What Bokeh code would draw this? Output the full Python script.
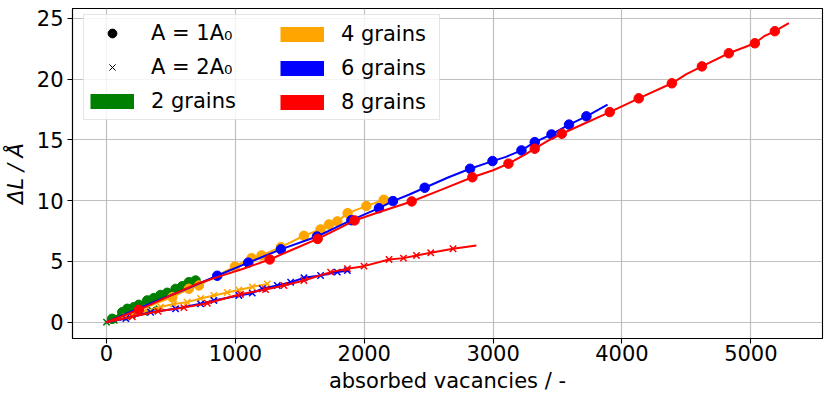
from bokeh.plotting import figure
from bokeh.models import Range1d, Legend, LegendItem
from bokeh.embed import file_html
from bokeh.resources import INLINE

# ---------------- data ----------------
# 2 grains
g2_a1_x = [0, 44, 122, 161, 212, 251, 316, 367, 419, 471, 536, 588, 639, 691]
g2_a1_y = [0, 0.28, 0.82, 1.10, 1.23, 1.43, 1.79, 1.98, 2.24, 2.42, 2.74, 2.96, 3.29, 3.43]
g2_a1_mx = [44, 122, 161, 212, 251, 316, 367, 419, 471, 536, 588, 639, 691]
g2_a1_my = [0.28, 0.82, 1.10, 1.23, 1.43, 1.79, 1.98, 2.24, 2.42, 2.74, 2.96, 3.29, 3.43]

g2_a2_x = [0, 60, 130, 200, 290, 350, 406]
g2_a2_y = [0, 0.15, 0.40, 0.60, 0.82, 1.00, 1.10]
g2_a2_mx = [0, 60, 130, 200, 290, 350, 406]
g2_a2_my = [0, 0.15, 0.40, 0.60, 0.82, 1.00, 1.10]

# 4 grains
g4_a1_x = [0, 250, 510, 639, 717, 860, 996, 1126, 1203, 1353, 1532, 1661, 1726, 1791, 1871, 2016, 2151, 2238]
g4_a1_y = [0, 1.0, 2.06, 2.75, 3.02, 3.85, 4.58, 5.27, 5.49, 6.17, 7.11, 7.63, 8.04, 8.29, 8.97, 9.55, 10.07, 10.29]
g4_a1_mx = [510, 639, 717, 996, 1126, 1203, 1353, 1532, 1661, 1726, 1791, 1871, 2016, 2151]
g4_a1_my = [2.06, 2.75, 3.02, 4.58, 5.27, 5.49, 6.17, 7.11, 7.63, 8.04, 8.29, 8.97, 9.55, 10.07]

g4_a2_x = [0, 150, 300, 420, 520, 626, 730, 833, 937, 1027, 1131, 1248]
g4_a2_y = [0, 0.45, 0.90, 1.25, 1.50, 1.65, 1.95, 2.20, 2.45, 2.65, 2.90, 3.15]
g4_a2_mx = [150, 300, 420, 520, 626, 730, 833, 937, 1027, 1131, 1248]
g4_a2_my = [0.45, 0.90, 1.25, 1.50, 1.65, 1.95, 2.20, 2.45, 2.65, 2.90, 3.15]

# 6 grains
g6_a1_x = [0, 300, 600, 859, 1100, 1353, 1633, 1900, 2114, 2223, 2350, 2469, 2650, 2821,
           2995, 3100, 3220, 3323, 3453, 3589, 3724, 3888]
g6_a1_y = [0, 1.35, 2.65, 3.82, 4.90, 5.99, 7.05, 8.39, 9.38, 9.96, 10.5, 11.06, 11.9, 12.62,
           13.25, 13.6, 14.13, 14.81, 15.44, 16.25, 16.93, 17.9]
g6_a1_mx = [859, 1100, 1353, 1633, 1900, 2114, 2223, 2469, 2821, 2995, 3220, 3323, 3453, 3589, 3724]
g6_a1_my = [3.82, 4.90, 5.99, 7.05, 8.39, 9.38, 9.96, 11.06, 12.62, 13.25, 14.13, 14.81, 15.44, 16.25, 16.93]

g6_a2_x = [0, 150, 342, 536, 730, 833, 1027, 1131, 1209, 1325, 1429, 1532, 1661, 1791, 1887]
g6_a2_y = [0, 0.30, 0.82, 1.10, 1.51, 1.79, 2.20, 2.39, 2.75, 3.02, 3.29, 3.65, 3.84, 4.12, 4.26]
g6_a2_mx = [150, 342, 536, 730, 833, 1027, 1131, 1209, 1325, 1429, 1532, 1661, 1791, 1869]
g6_a2_my = [0.30, 0.82, 1.10, 1.51, 1.79, 2.20, 2.39, 2.75, 3.02, 3.29, 3.65, 3.84, 4.12, 4.24]

# 8 grains
g8_a1_x = [0, 251, 500, 704, 900, 1050, 1266, 1450, 1638, 1800, 1925, 2100, 2368, 2600, 2839,
           3000, 3119, 3250, 3323, 3420, 3533, 3700, 3905, 4130, 4387, 4500, 4620, 4829, 5031,
           5100, 5186, 5295]
g8_a1_y = [0, 1.02, 2.2, 3.16, 3.85, 4.35, 5.16, 6.0, 6.85, 7.7, 8.37, 9.0, 9.93, 10.9, 11.92,
           12.5, 13.04, 13.8, 14.27, 14.9, 15.5, 16.3, 17.28, 18.41, 19.65, 20.4, 21.04, 22.12, 22.94,
           23.5, 23.93, 24.6]
g8_a1_mx = [251, 1266, 1638, 1925, 2368, 2839, 3119, 3323, 3533, 3905, 4130, 4387, 4620, 4829, 5031, 5186]
g8_a1_my = [1.02, 5.16, 6.85, 8.37, 9.93, 11.92, 13.04, 14.27, 15.5, 17.28, 18.41, 19.65, 21.04, 22.12, 22.94, 23.93]

g8_a2_x = [0, 200, 400, 600, 782, 1040, 1234, 1377, 1532, 1739, 1869, 1998, 2192, 2304, 2405,
           2516, 2689, 2870]
g8_a2_y = [0, 0.45, 0.90, 1.20, 1.56, 2.30, 2.69, 3.02, 3.43, 4.12, 4.40, 4.61, 5.16, 5.27, 5.49,
           5.71, 6.04, 6.31]
g8_a2_mx = [200, 400, 600, 782, 1040, 1234, 1377, 1532, 1739, 1869, 1998, 2192, 2304, 2405, 2516, 2689]
g8_a2_my = [0.45, 0.90, 1.20, 1.56, 2.30, 2.69, 3.02, 3.43, 4.12, 4.40, 4.61, 5.16, 5.27, 5.49, 5.71, 6.04]

series_labels = ["2 grains", "4 grains", "6 grains", "8 grains"]
series_colors = ["green", "orange", "blue", "red"]
marker_labels = ["A = 1A\u2080", "A = 2A\u2080"]

x_ticks = [0, 1000, 2000, 3000, 4000, 5000]
y_ticks = [0, 5, 10, 15, 20, 25]
x_label = "absorbed vacancies / -"
y_label = "\u0394L / \u00c5"

FONT = "DejaVu Sans"
FS = "21px"
NAN = float("nan")

p = figure(width=824, height=399, output_backend="svg", toolbar_location=None,
           x_range=Range1d(-264, 5556), y_range=Range1d(-1.34, 25.8),
           min_border_left=72, min_border_right=2, min_border_top=8, min_border_bottom=61)
p.background_fill_color = "white"
p.border_fill_color = "white"
p.outline_line_color = "black"
p.outline_line_width = 1.1
p.outline_line_alpha = 1.0

for ax in (p.xaxis, p.yaxis):
    ax.axis_line_color = "black"
    ax.axis_line_width = 1.1
    ax.major_tick_line_color = "black"
    ax.major_tick_line_width = 1.1
    ax.major_tick_out = 5
    ax.major_tick_in = 0
    ax.minor_tick_line_color = None
    ax.major_label_text_font = FONT
    ax.major_label_text_font_size = FS
    ax.major_label_text_color = "black"
    ax.axis_label_text_font = FONT
    ax.axis_label_text_font_size = FS
    ax.axis_label_text_color = "black"
p.xaxis.major_label_standoff = 1
p.xaxis.axis_label_standoff = 5
p.yaxis.major_label_standoff = 4
p.yaxis.axis_label_standoff = 6
p.xaxis.ticker = x_ticks
p.yaxis.ticker = y_ticks
p.xaxis.axis_label = x_label
p.yaxis.axis_label = y_label
p.xaxis.axis_label_text_font_style = "normal"
p.yaxis.axis_label_text_font_style = "italic"

for g in (p.xgrid, p.ygrid):
    g.grid_line_color = "#b0b0b0"
    g.grid_line_width = 1.2
    g.grid_line_alpha = 0.8

data = [
    (g2_a1_x, g2_a1_y, g2_a1_mx, g2_a1_my, g2_a2_x, g2_a2_y, g2_a2_mx, g2_a2_my),
    (g4_a1_x, g4_a1_y, g4_a1_mx, g4_a1_my, g4_a2_x, g4_a2_y, g4_a2_mx, g4_a2_my),
    (g6_a1_x, g6_a1_y, g6_a1_mx, g6_a1_my, g6_a2_x, g6_a2_y, g6_a2_mx, g6_a2_my),
    (g8_a1_x, g8_a1_y, g8_a1_mx, g8_a1_my, g8_a2_x, g8_a2_y, g8_a2_mx, g8_a2_my),
]
for col, (lx1, ly1, mx1, my1, lx2, ly2, mx2, my2) in zip(series_colors, data):
    p.line(lx1, ly1, line_color=col, line_width=2)
    p.scatter(mx1, my1, marker="circle", size=9.5, fill_color=col, line_color=col)
    p.line(lx2, ly2, line_color=col, line_width=2)
    p.scatter(mx2, my2, marker="x", size=9, line_color=col, line_width=1.5)

# legend proxies (renderers with a single NaN point: nothing is drawn in the plot)
r_a1 = p.scatter(x=[NAN], y=[NAN], marker="circle", size=8, fill_color="black", line_color="black")
r_a2 = p.scatter(x=[NAN], y=[NAN], marker="x", size=6, line_color="black", line_width=1)
# thick butt-capped lines give 44x15 colour patches in the legend
patch_r = [p.line(x=[NAN], y=[NAN], line_color=c, line_width=15, line_cap="butt")
           for c in series_colors]

common = dict(label_text_font=FONT, label_text_font_size=FS, label_text_color="black",
              glyph_width=44, glyph_height=22, label_standoff=17,
              spacing=10, padding=6, margin=0)

# legend location tuples = bottom-left corner, in pixels from the frame's bottom-left
legend1 = Legend(items=[LegendItem(label=marker_labels[0], renderers=[r_a1]),
                        LegendItem(label=marker_labels[1], renderers=[r_a2]),
                        LegendItem(label=series_labels[0], renderers=[patch_r[0]])],
                 location=(11, 218), label_width=282,
                 border_line_color="#cccccc", border_line_width=1,
                 background_fill_color="white", background_fill_alpha=0.8, **common)
legend2 = Legend(items=[LegendItem(label=series_labels[1], renderers=[patch_r[1]]),
                        LegendItem(label=series_labels[2], renderers=[patch_r[2]]),
                        LegendItem(label=series_labels[3], renderers=[patch_r[3]])],
                 location=(208, 224), label_width=80,
                 border_line_color=None, background_fill_alpha=0, **common)
p.add_layout(legend1)
p.add_layout(legend2)

open("out.html", "w").write(file_html(p, INLINE))
